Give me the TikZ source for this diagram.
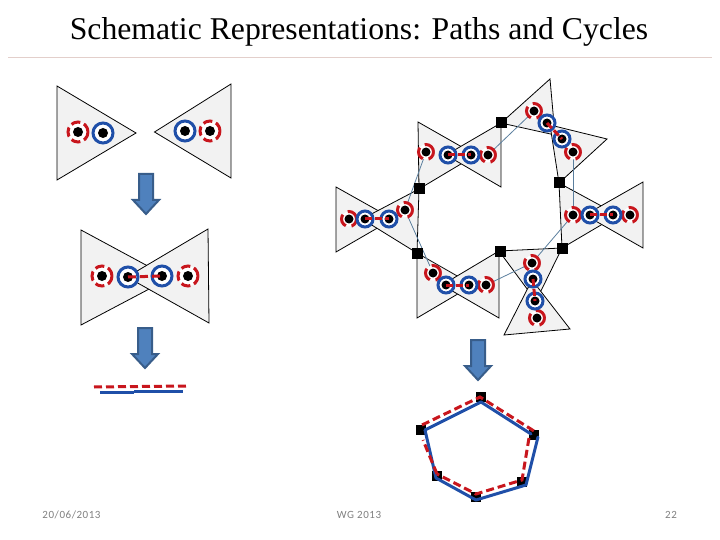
\documentclass[tikz,border=0pt]{standalone}
\usepackage{fontspec}
\setmainfont{Liberation Serif}
\newfontfamily\footfont[LetterSpace=5]{Carlito}
\definecolor{tripale}{HTML}{F2F2F2}
\definecolor{ringblue}{HTML}{1F4FA8}
\definecolor{ringred}{HTML}{C8161D}
\definecolor{arrowfill}{HTML}{4F81BD}
\definecolor{arrowline}{HTML}{385D8A}
\definecolor{thinlink}{HTML}{5B7F9E}
\definecolor{rulepink}{HTML}{E3CFCB}
\definecolor{footgray}{HTML}{7F7F7F}
\tikzset{
	tri/.style={draw=black,fill=tripale,line width=0.8pt,line join=miter},
	bluering/.style={circle,draw=ringblue,fill=white,line width=3pt,inner sep=0pt,minimum size=16pt},
	redring/.style={circle,draw=ringred,fill=white,line width=3pt,inner sep=0pt,minimum size=15pt,dash pattern=on 13pt off 5.85pt},
	bigblue/.style={bluering,minimum size=20pt},
	bigred/.style={redring,minimum size=20pt,dash pattern=on 9.3pt off 4pt},
	sq/.style={rectangle,fill=black,inner sep=0pt,minimum size=11pt},
	sqsmall/.style={sq,minimum size=10pt},
	thinlinkline/.style={draw=thinlink,line width=0.8pt},
	reddash/.style={draw=ringred,line width=3pt,dash pattern=on 8pt off 4pt},
	blueline/.style={draw=ringblue,line width=3pt,line cap=round},
	footer/.style={text=footgray,font=\footfont\fontsize{11}{13}\selectfont,inner sep=0pt}
}
\newcommand{\downblock}[2]{%
	\draw[fill=arrowfill,draw=arrowline,line width=2pt,line join=miter,shift={(#1,#2)}]
		(-7,0) -- (7,0) -- (7,26) -- (13,26) -- (0,40) -- (-13,26) -- (-7,26) -- cycle;}
\begin{document}
\begin{tikzpicture}[x=1pt,y=-1pt]
	\useasboundingbox (0,0) rectangle (720,540);
	\node[inner sep=0pt,font=\fontsize{31.7}{36}\selectfont] (title) at (359,32) {Schematic Representations: Paths and Cycles};
	\coordinate (ruleL) at (8,57);
	\coordinate (ruleR) at (712,57);
	\draw[rulepink,line width=0.8pt] (ruleL) -- (ruleR);
	% left column
	\draw[tri] (57,86) -- (136,133) -- (57,180) -- cycle;
	\draw[tri] (231,84) -- (154.5,132) -- (231,178) -- cycle;
	\downblock{146}{174}
	\draw[tri] (81,230) -- (170,278) -- (81,325) -- cycle;
	\draw[tri] (208,229) -- (127,277) -- (209,323) -- cycle;
	\downblock{145}{328}
	\foreach \n/\x/\y in {la/78/132,lb/210/131,lc/102/276,ld/188/276}{
		\node[bigred] (\n) at (\x,\y) {};
		\fill (\n) circle (5);
	}
	\foreach \n/\x/\y in {le/103/133,lf/185/131,lg/128/277,lh/162/276}{
		\node[bigblue] (\n) at (\x,\y) {};
		\fill (\n) circle (5);
	}
	\draw[reddash] (lg.center) -- (lh.center);
	\coordinate (pa) at (94,387);
	\coordinate (pb) at (187,386);
	\draw[reddash] (pa) -- (pb);
	\coordinate (qa) at (100,392.5);
	\coordinate (qb) at (134,392.5);
	\coordinate (qc) at (134,391);
	\coordinate (qd) at (183,391);
	\draw[blueline,line cap=butt] (qa) -- (qb);
	\draw[blueline,line cap=butt] (qc) -- (qd);
	% right cycle, bow ties
	\draw[tri] (418,122) -- (476,155) -- (419,189) -- cycle;
	\draw[tri] (501,123) -- (446,155) -- (501,187) -- cycle;
	\draw[tri] (336,187) -- (393,219) -- (336,252) -- cycle;
	\draw[tri] (419,189) -- (362,219) -- (417,253) -- cycle;
	\draw[tri] (417,253) -- (473,285) -- (417,318) -- cycle;
	\draw[tri] (499,251) -- (442,285) -- (499,318) -- cycle;
	\draw[tri] (499,251) -- (562,248) -- (536,301) -- cycle;
	\draw[tri] (504,335) -- (570,329) -- (532,280) -- cycle;
	\draw[tri] (559,183) -- (618,215) -- (562,248) -- cycle;
	\draw[tri] (643,182) -- (585,215) -- (643,248) -- cycle;
	\draw[tri] (501,123) -- (550,79) -- (555,135) -- cycle;
	\draw[tri] (607,139) -- (559,183) -- (550,125) -- cycle;
	\foreach \n/\x/\y in {ra/426/152,rb/405/210,rc/433/273,rd/486/285,re/532/263,rf/573/215,rg/573/152,rh/534/111,ri/488/155}
		\coordinate (\n) at (\x,\y);
	\foreach \a/\b in {ra/rb,rb/rc,rd/re,re/rf,rf/rg,ri/rh}
		\draw[thinlinkline] (\a) -- (\b);
	\foreach \n/\x/\y in {sa/501/123,sb/559/183,sc/562/248,sd/500/251,se/419/189,sf/417/253}
		\node[sq] (\n) at (\x,\y) {};
	% outer rings
	\foreach \n in {ra,rb,rc,rd,re,rf,rg,rh,ri}{
		\node[redring] (\n x) at (\n) {};
		\fill (\n) circle (4.5);
	}
	\foreach \n/\x/\y in {rj/349/219,rk/630/215,rl/537/318}{
		\node[redring] (\n) at (\x,\y) {};
		\fill (\n) circle (4.5);
	}
	% inner rings and their dashed links
	\foreach \n/\m/\xa/\ya/\xb/\yb in {ua/ub/448/155/471/155,uc/ud/365/219/389/219,ue/uf/446/285/469/285,ug/uh/533/279/535/301,ui/uj/590/215/613/215,uk/ul/547/123/562/139}{
		\node[bluering] (\n) at (\xa,\ya) {};
		\node[bluering] (\m) at (\xb,\yb) {};
		\fill (\n) circle (4.5);
		\fill (\m) circle (4.5);
		\draw[reddash,dash pattern=on 7pt off 3pt] (\n.center) -- (\m.center);
	}
	% bottom cycle
	\downblock{478}{340}
	\foreach \n/\x/\y in {ta/481/397,tb/534/434.5,tc/522/482,td/476/497,te/437/476,tf/421/430}
		\node[sqsmall] (\n) at (\x,\y) {};
	\coordinate (ba) at (425,430);
	\coordinate (bb) at (481,402);
	\coordinate (bc) at (531,434);
	\coordinate (bd) at (538,437);
	\coordinate (be) at (526,485);
	\coordinate (bf) at (476,500);
	\coordinate (bg) at (436,478);
	\draw[blueline,line join=round] (ba) -- (bb) -- (bc);
	\draw[blueline,line join=round] (bd) -- (be) -- (bf) -- (bg) -- (ba);
	\coordinate (ca) at (422,425);
	\coordinate (cb) at (480,397);
	\coordinate (cc) at (534,431);
	\coordinate (cd) at (529,438);
	\coordinate (ce) at (522,480);
	\coordinate (cf) at (476,494);
	\coordinate (cg) at (437,474);
	\coordinate (ch) at (423,440);
	\draw[reddash] (ca) -- (cb) -- (cc);
	\draw[reddash] (cd) -- (ce) -- (cf) -- (cg);
	\draw[reddash] (cg) -- (ch);
	% footer
	\node[footer] (fdate) at (71.5,514.5) {20/06/2013};
	\node[footer] (fconf) at (359,514.5) {WG 2013};
	\node[footer] (fpage) at (671,514.5) {22};
\end{tikzpicture}
\end{document}
